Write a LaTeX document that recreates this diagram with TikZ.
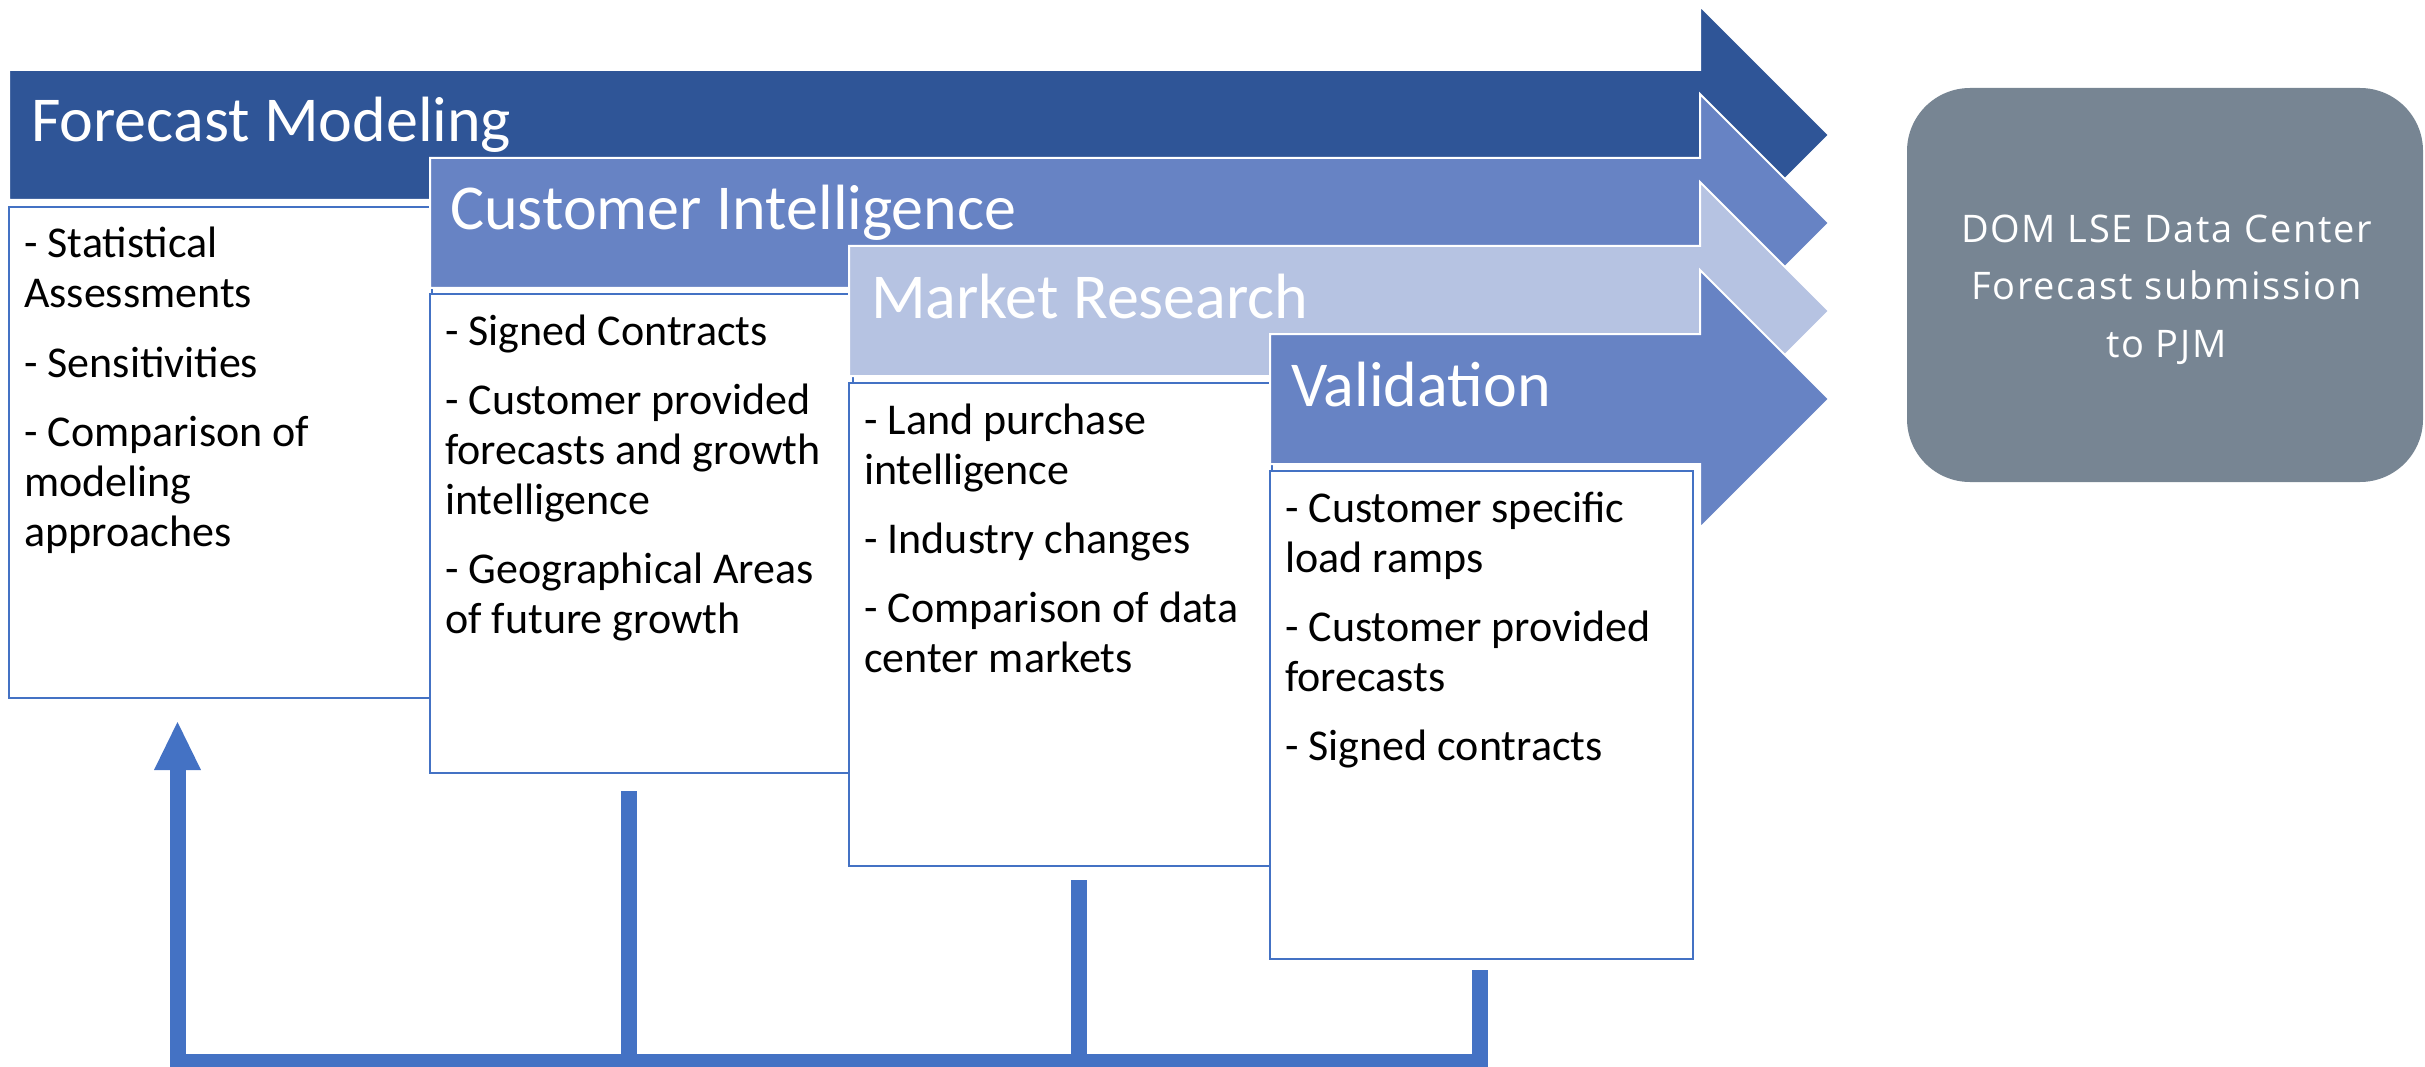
\documentclass[tikz,border=0pt]{standalone}
\usepackage{fontspec}
\setmainfont{Carlito}
\newfontfamily\domfont[LetterSpace=4.5]{Open Sans}
\definecolor{fmblue}{HTML}{2F5597}
\definecolor{ciblue}{HTML}{6783C4}
\definecolor{mrblue}{HTML}{B6C3E2}
\definecolor{slate}{HTML}{778593}
\definecolor{fbblue}{HTML}{4472C4}
\newcommand\hdrarrow[3]{%
  \fill[#3, draw=white, line width=2pt, line join=miter]
    (#1,#2-65) -- (1700,#2-65) -- (1700,#2-129) -- (1829,#2)
    -- (1700,#2+129) -- (1700,#2+65) -- (#1,#2+65) -- cycle;}
\tikzset{
  hdr/.style={font=\fontsize{64}{75}\selectfont, text=white, inner sep=0pt, anchor=base west},
  bodytxt/.style={font=\fontsize{44}{50}\selectfont, text=black, inner sep=0pt, anchor=base west},
  txtbox/.style={draw=fbblue, fill=white, line width=2pt, inner sep=0pt, outer sep=0pt,
    minimum width=423, anchor=north west},
  fb/.style={draw=fbblue, line width=16pt, line join=miter},
  dombox/.style={fill=slate, rounded corners=63pt, minimum width=516, minimum height=394,
    inner sep=0pt},
  domtxt/.style={text=white, inner sep=0pt, anchor=base, font=\domfont\fontsize{38}{46}\selectfont}
}
\begin{document}
\begin{tikzpicture}[x=1pt,y=-1pt]
\useasboundingbox (0,0) rectangle (2425,1067);
\clip (0,0) rectangle (2425,1067);

% Forecast Modeling
\hdrarrow{9}{135}{fmblue}
\node[hdr] (h1) at (31,142) {Forecast Modeling};
\node[txtbox, minimum height=491] (b1) at (9,207) {};
\foreach \y/\t [count=\i] in {258/{- Statistical}, 308/{Assessments}, 377/{- Sensitivities},
    446/{- Comparison of}, 496/{modeling}, 546/{approaches}}
  \node[bodytxt] (b1-\i) at (24,\y) {\t};

% Customer Intelligence
\hdrarrow{430}{223}{ciblue}
\node[hdr] (h2) at (450,230) {Customer Intelligence};
\node[txtbox, minimum height=479] (b2) at (430,294) {};
\foreach \y/\t [count=\i] in {345/{- Signed Contracts}, 414/{- Customer provided},
    464/{forecasts and growth}, 514/{intelligence}, 583/{- Geographical Areas}, 633/{of future growth}}
  \node[bodytxt] (b2-\i) at (445,\y) {\t};

% Market Research
\hdrarrow{849}{311}{mrblue}
\node[hdr] (h3) at (871,318) {Market Research};
\node[txtbox, minimum height=483] (b3) at (849,383) {};
\foreach \y/\t [count=\i] in {434/{- Land purchase}, 484/{intelligence}, 553/{- Industry changes},
    622/{- Comparison of data}, 672/{center markets}}
  \node[bodytxt] (b3-\i) at (864,\y) {\t};

% Validation
\hdrarrow{1270}{399}{ciblue}
\node[hdr] (h4) at (1291,406) {Validation};
\node[txtbox, minimum height=488] (b4) at (1270,471) {};
\foreach \y/\t [count=\i] in {522/{- Customer specific}, 572/{load ramps}, 641/{- Customer provided},
    691/{forecasts}, 760/{- Signed contracts}}
  \node[bodytxt] (b4-\i) at (1285,\y) {\t};

% Result box
\node[dombox] (dom) at (2165,285) {};
\node[domtxt] (dom-1) at (2166.5,243) {DOM LSE Data Center};
\node[domtxt] (dom-2) at (2166.5,300) {Forecast submission};
\node[domtxt] (dom-3) at (2166.5,357) {to PJM};

% Feedback loop
\coordinate (f1top) at (177.5,770);
\coordinate (f1tip) at (177.5,722);
\coordinate (f2top) at (629,791);
\coordinate (f3top) at (1079,880);
\coordinate (f4top) at (1480,970);
\coordinate (f1bot) at (177.5,1062);
\coordinate (f2bot) at (629,1062);
\coordinate (f3bot) at (1079,1062);
\coordinate (f4bot) at (1480,1062);
\draw[fb] (f4top) -- (f4bot) -- (f1bot) -- (f1top);
\draw[fb] (f2top) -- (f2bot);
\draw[fb] (f3top) -- (f3bot);
\fill[fbblue] ([xshift=-23.5pt]f1top) -- (f1tip) -- ([xshift=23.5pt]f1top) -- cycle;
\end{tikzpicture}
\end{document}
